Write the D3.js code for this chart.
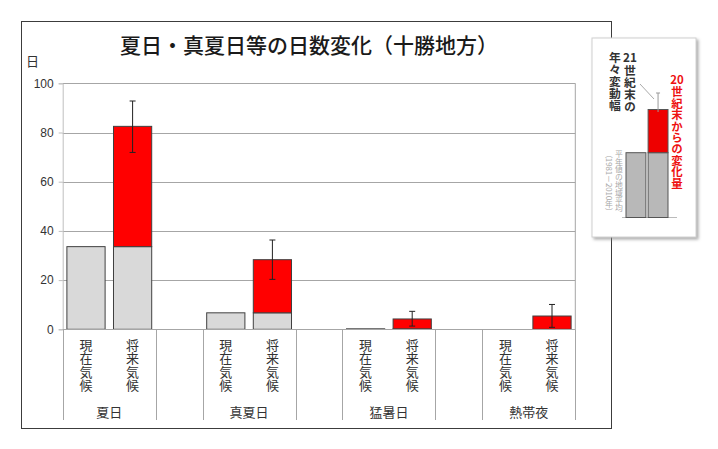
<!DOCTYPE html>
<html><head><meta charset="utf-8">
<script src="https://cdn.jsdelivr.net/npm/d3@7"></script>
<style>
html,body{margin:0;padding:0;background:#fff;}
svg{display:block;font-family:"Noto Sans CJK JP","Noto Sans",sans-serif;}
</style></head>
<body>
<script>
// ---- data ----
const groups = ["夏日", "真夏日", "猛暑日", "熱帯夜"];
const subLabels = ["現在気候", "将来気候"];
const presentVals = [33.6, 6.7, 0.2, 0];
const futureVals = [82.5, 28.3, 4.2, 5.4];
const errLow = [71.9, 20.3, 1.3, 0.8];
const errHigh = [92.8, 36.3, 7.3, 10.1];
const yTicks = [0, 20, 40, 60, 80, 100];
const title = "夏日・真夏日等の日数変化（十勝地方）";
const yUnit = "日";
const legendLeftCols = ["21世紀末の", "年々変動幅"];
const legendRed = "20世紀末からの変化量";
const legendGray = ["平年値の地域平均", "（1981－2010年）"];
const legendBars = [60, 60, 100]; // present, future-base, future-total (illustrative legend)

const W = 718, H = 449;
const svg = d3.select("body").append("svg").attr("width", W).attr("height", H);

// outer chart border
svg.append("rect").attr("x", 21.5).attr("y", 21.5).attr("width", 590).attr("height", 407)
  .attr("fill", "#fff").attr("stroke", "#3c3c3c").attr("stroke-width", 1);

// title
svg.append("text").attr("x", 309).attr("y", 53).attr("text-anchor", "middle")
  .attr("font-size", 21).attr("font-weight", 500).attr("fill", "#1a1a1a").text(title);

svg.append("text").attr("x", 26).attr("y", 66).attr("font-size", 13).attr("fill", "#333").text(yUnit);

const x0 = 62.7, x1 = 575.3, yTop = 83.3, yBot = 329.3;
const nCells = groups.length * 3 - 1;
const cell = d3.scaleBand().domain(d3.range(nCells)).range([x0, x1]).padding(0);
const y = d3.scaleLinear().domain([0, 100]).range([yBot, yTop]);
const bw = cell.bandwidth() * 0.82;
const barX = k => cell(k) + (cell.bandwidth() - bw) / 2;

// gridlines
svg.append("g").selectAll("line").data(yTicks.filter(d => d > 0)).join("line")
  .attr("x1", x0).attr("x2", x1).attr("y1", d => Math.round(y(d)) + 0.5).attr("y2", d => Math.round(y(d)) + 0.5)
  .attr("stroke", "#a6a6a6").attr("stroke-width", 1);
svg.append("line").attr("x1", x1).attr("x2", x1).attr("y1", y(100)).attr("y2", y(0))
  .attr("stroke", "#a6a6a6");

// y axis
const yAxis = d3.axisLeft(y).tickValues(yTicks).tickSize(4).tickPadding(5);
const gy = svg.append("g").attr("transform", `translate(${x0},0)`).call(yAxis);
gy.select(".domain").attr("stroke", "#bfbfbf");
gy.selectAll(".tick line").attr("stroke", "#bfbfbf");
gy.selectAll(".tick text").attr("font-family", "'Liberation Sans',Arial,sans-serif")
  .attr("font-size", 12).attr("fill", "#333");

// bars
const bars = svg.append("g");
groups.forEach((g, i) => {
  const kp = i * 3, kf = i * 3 + 1;
  if (presentVals[i] > 0) {
    bars.append("rect").attr("x", barX(kp)).attr("width", bw)
      .attr("y", y(presentVals[i])).attr("height", y(0) - y(presentVals[i]))
      .attr("fill", "#d9d9d9").attr("stroke", "#404040").attr("stroke-width", 1);
    bars.append("rect").attr("x", barX(kf)).attr("width", bw)
      .attr("y", y(presentVals[i])).attr("height", y(0) - y(presentVals[i]))
      .attr("fill", "#d9d9d9").attr("stroke", "#404040").attr("stroke-width", 1);
  }
  bars.append("rect").attr("x", barX(kf)).attr("width", bw)
    .attr("y", y(futureVals[i])).attr("height", y(presentVals[i]) - y(futureVals[i]))
    .attr("fill", "#ff0000").attr("stroke", "#404040").attr("stroke-width", 1);
  const cx = barX(kf) + bw / 2;
  const eg = bars.append("g").attr("stroke", "#222").attr("stroke-width", 1);
  eg.append("line").attr("x1", cx).attr("x2", cx).attr("y1", y(errHigh[i])).attr("y2", y(errLow[i]));
  eg.append("line").attr("x1", cx - 3).attr("x2", cx + 3).attr("y1", y(errHigh[i])).attr("y2", y(errHigh[i]));
  eg.append("line").attr("x1", cx - 3).attr("x2", cx + 3).attr("y1", y(errLow[i])).attr("y2", y(errLow[i]));
});

// x axis baseline
svg.append("line").attr("x1", x0).attr("x2", x1).attr("y1", Math.round(y(0)) + 0.5).attr("y2", Math.round(y(0)) + 0.5)
  .attr("stroke", "#a6a6a6");

// separators
const sepIdx = [];
groups.forEach((g, i) => { sepIdx.push(i * 3); sepIdx.push(i * 3 + 2); });
svg.append("g").selectAll("line").data(sepIdx).join("line")
  .attr("x1", k => Math.round(k < nCells ? cell(k) : x1) + 0.5)
  .attr("x2", k => Math.round(k < nCells ? cell(k) : x1) + 0.5)
  .attr("y1", y(0)).attr("y2", 420).attr("stroke", "#a6a6a6");

// category labels (vertical, one glyph per text)
const lab = svg.append("g").attr("font-size", 13).attr("fill", "#333");
groups.forEach((g, i) => {
  subLabels.forEach((s, j) => {
    const cx = cell(i * 3 + j) + cell.bandwidth() / 2;
    Array.from(s).forEach((ch, m) => {
      lab.append("text").attr("x", cx).attr("y", 338.5 + m * 13.4)
        .style("writing-mode", "vertical-rl").text(ch);
    });
  });
  lab.append("text").attr("x", cell(i * 3 + 1)).attr("y", 417).attr("text-anchor", "middle").text(g);
});

// ---- legend (inset) ----
const L = svg.append("g");
const defs = svg.append("defs");
const f = defs.append("filter").attr("id", "sh").attr("x", "-10%").attr("y", "-10%").attr("width", "130%").attr("height", "130%");
f.append("feDropShadow").attr("dx", 2).attr("dy", 2).attr("stdDeviation", 1.5).attr("flood-color", "#888").attr("flood-opacity", 0.7);
L.append("rect").attr("x", 592).attr("y", 38).attr("width", 104).attr("height", 199)
  .attr("fill", "#fff").attr("stroke", "#d0d0d0").attr("filter", "url(#sh)");

const ly = d3.scaleLinear().domain([0, 100]).range([217.5, 109.5]);
const lx = d3.scaleBand().domain([0, 1]).range([626, 668]).paddingInner(0.1);
L.append("line").attr("x1", 622).attr("x2", 677).attr("y1", 217.5).attr("y2", 217.5).attr("stroke", "#bbb");
L.append("rect").attr("x", lx(0)).attr("width", lx.bandwidth()).attr("y", ly(legendBars[0])).attr("height", ly(0) - ly(legendBars[0]))
  .attr("fill", "#b8b8b8").attr("stroke", "#555");
L.append("rect").attr("x", lx(1)).attr("width", lx.bandwidth()).attr("y", ly(legendBars[1])).attr("height", ly(0) - ly(legendBars[1]))
  .attr("fill", "#b8b8b8").attr("stroke", "#555");
L.append("rect").attr("x", lx(1)).attr("width", lx.bandwidth()).attr("y", ly(legendBars[2])).attr("height", ly(legendBars[1]) - ly(legendBars[2]))
  .attr("fill", "#ee0000").attr("stroke", "#555");
const lcx = lx(1) + lx.bandwidth() / 2;
L.append("line").attr("x1", lcx).attr("x2", lcx).attr("y1", 93).attr("y2", 112).attr("stroke", "#999");
L.append("line").attr("x1", lcx - 2).attr("x2", lcx + 2).attr("y1", 93).attr("y2", 93).attr("stroke", "#999");
L.append("line").attr("x1", 640).attr("x2", 654).attr("y1", 84).attr("y2", 99).attr("stroke", "#aaa");

// vertical text: leading digit pair rendered upright-horizontal, rest in vertical-rl
function vText(g, str, cx, top, size, color, weight) {
  const m = str.match(/^(\d+)(.*)$/);
  let rest = str, start = top;
  if (m) {
    g.append("text").attr("x", cx).attr("y", top + size * 0.86).attr("text-anchor", "middle")
      .attr("font-size", size).attr("font-weight", weight).attr("fill", color).text(m[1]);
    rest = m[2]; start = top + size + 1;
  }
  g.append("text").attr("x", cx).attr("y", start)
    .attr("font-size", size).attr("font-weight", weight).attr("fill", color)
    .style("writing-mode", "vertical-rl").text(rest);
}
vText(L, legendLeftCols[0], 630, 52, 11.8, "#333", 700);
vText(L, legendLeftCols[1], 615, 52, 11.8, "#333", 700);
vText(L, legendRed, 677, 74, 11.4, "#ee1111", 700);
L.append("text").attr("x", 619).attr("y", 150).attr("font-size", 7.8).attr("fill", "#a8a8a8")
  .style("writing-mode", "vertical-rl").text(legendGray[0]);
L.append("text").attr("x", 609).attr("y", 150).attr("font-size", 7.8).attr("fill", "#a8a8a8")
  .style("writing-mode", "vertical-rl").text(legendGray[1]);
</script>
</body></html>
